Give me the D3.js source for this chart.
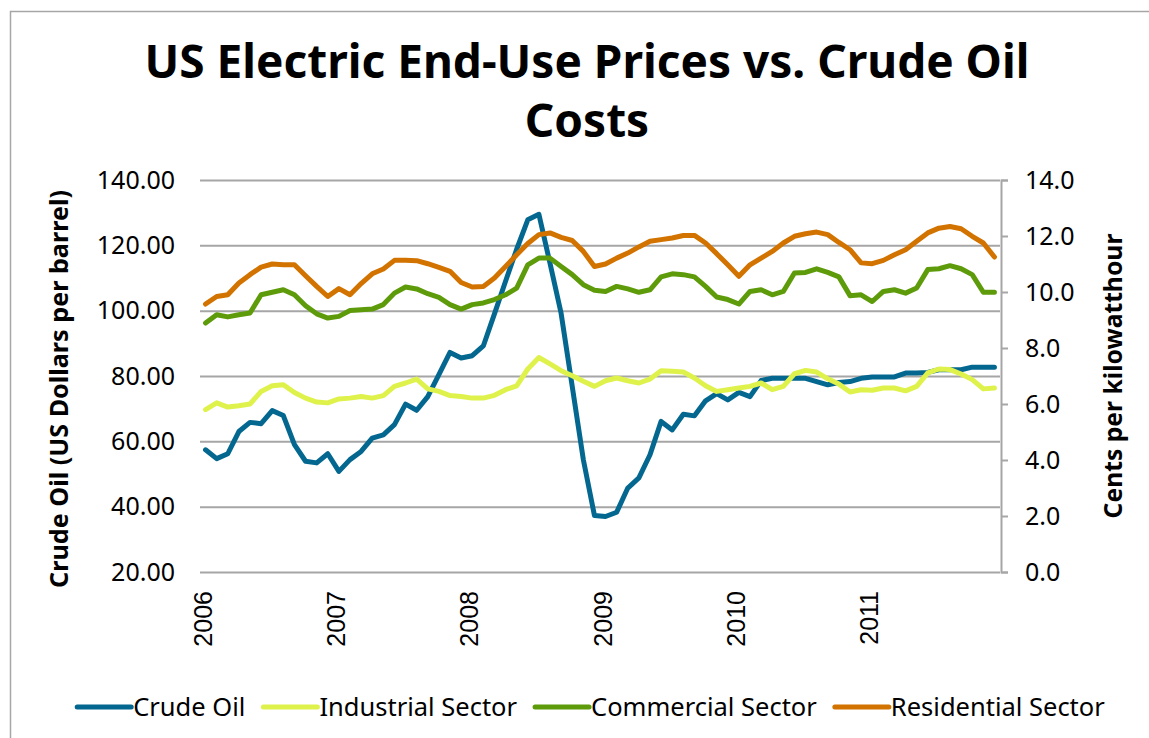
<!DOCTYPE html>
<html>
<head>
<meta charset="utf-8" />
<title>US Electric End-Use Prices vs. Crude Oil Costs</title>
<script src="https://cdn.jsdelivr.net/npm/d3@7"></script>
<style>
  body { margin: 0; background: #fff; }
  svg { display: block; font-family: "Noto Sans", sans-serif; }
</style>
</head>
<body>
<script>
// monthly values, Jan 2006 .. Dec 2011
var yearLabels = ['2006', '2007', '2008', '2009', '2010', '2011'];
var seriesNames = ['Crude Oil', 'Industrial Sector', 'Commercial Sector', 'Residential Sector'];
var seriesColors = ['#03678f', '#dff24c', '#5e9b0b', '#d27300'];

var crudeOil = [57.4, 54.7, 56.2, 63.0, 65.8, 65.4, 69.4, 67.9, 59.0, 53.9, 53.4, 56.2,
    50.8, 54.4, 56.9, 61.0, 62.0, 65.1, 71.4, 69.5, 73.7, 80.4, 87.2, 85.5,
    86.2, 89.2, 99.0, 109.0, 118.8, 127.8, 129.5, 114.5, 99.2, 76.8, 54.4, 37.3,
    37.0, 38.3, 45.7, 48.8, 55.9, 66.1, 63.5, 68.3, 67.8, 72.4, 74.6, 72.7,
    75.0, 73.7, 78.6, 79.3, 79.3, 79.3, 79.3, 78.3, 77.3, 78.0, 78.3, 79.3,
    79.7, 79.7, 79.7, 80.9, 80.9, 81.1, 81.9, 81.9, 81.9, 82.7, 82.7, 82.7];

var industrial = [5.80, 6.04, 5.89, 5.94, 6.00, 6.45, 6.65, 6.69, 6.41, 6.21, 6.07, 6.04,
    6.18, 6.21, 6.27, 6.21, 6.30, 6.63, 6.75, 6.89, 6.54, 6.45, 6.30, 6.27,
    6.21, 6.21, 6.31, 6.51, 6.65, 7.25, 7.66, 7.43, 7.19, 7.01, 6.81, 6.63,
    6.83, 6.93, 6.83, 6.75, 6.89, 7.19, 7.17, 7.14, 6.93, 6.65, 6.45, 6.51,
    6.57, 6.63, 6.75, 6.51, 6.63, 7.08, 7.20, 7.14, 6.90, 6.71, 6.43, 6.51,
    6.49, 6.57, 6.57, 6.47, 6.63, 7.11, 7.25, 7.23, 7.07, 6.87, 6.54, 6.57];

var commercial = [8.89, 9.19, 9.11, 9.19, 9.25, 9.90, 9.99, 10.08, 9.90, 9.51, 9.22, 9.07,
    9.13, 9.34, 9.37, 9.39, 9.55, 9.96, 10.18, 10.11, 9.94, 9.81, 9.55, 9.39,
    9.55, 9.61, 9.73, 9.90, 10.14, 10.97, 11.21, 11.21, 10.91, 10.62, 10.26, 10.06,
    10.02, 10.20, 10.11, 9.99, 10.08, 10.54, 10.65, 10.62, 10.54, 10.20, 9.82, 9.73,
    9.57, 10.02, 10.08, 9.90, 10.02, 10.68, 10.70, 10.83, 10.70, 10.54, 9.87, 9.90,
    9.66, 10.02, 10.08, 9.96, 10.14, 10.80, 10.83, 10.94, 10.83, 10.62, 9.99, 9.99];

var residential = [9.57, 9.84, 9.90, 10.32, 10.62, 10.89, 11.00, 10.97, 10.97, 10.58, 10.20, 9.84,
    10.12, 9.90, 10.30, 10.65, 10.82, 11.13, 11.13, 11.12, 11.01, 10.88, 10.74, 10.34,
    10.18, 10.20, 10.50, 10.91, 11.33, 11.73, 12.05, 12.11, 11.95, 11.84, 11.45, 10.91,
    11.00, 11.21, 11.39, 11.61, 11.81, 11.87, 11.93, 12.02, 12.02, 11.75, 11.37, 10.97,
    10.56, 10.97, 11.21, 11.45, 11.75, 11.99, 12.08, 12.14, 12.05, 11.77, 11.51, 11.04,
    11.01, 11.13, 11.33, 11.51, 11.81, 12.11, 12.28, 12.34, 12.26, 11.99, 11.75, 11.25];

var leftTicks = [20, 40, 60, 80, 100, 120, 140];
var rightTicks = [0, 2, 4, 6, 8, 10, 12, 14];

var width = 1149, height = 738;
var plot = { left: 200, right: 1000, top: 180, bottom: 572 };

var svg = d3.select('body').append('svg')
    .attr('width', width)
    .attr('height', height);

// outer chart border (runs off the page at right and bottom)
svg.append('rect')
    .attr('x', 10.5).attr('y', 11.5)
    .attr('width', 1200).attr('height', 800)
    .attr('fill', 'none')
    .attr('stroke', '#a6a6a6')
    .attr('stroke-width', 1.5);

var x = d3.scalePoint()
    .domain(d3.range(crudeOil.length))
    .range([plot.left, plot.right])
    .padding(0.5);

var yLeft = d3.scaleLinear().domain([20, 140]).range([plot.bottom, plot.top]);
var yRight = d3.scaleLinear().domain([0, 14]).range([plot.bottom, plot.top]);

// gridlines
svg.append('g')
    .attr('transform', 'translate(' + plot.left + ',0)')
    .call(d3.axisLeft(yLeft).tickValues(leftTicks).tickSize(-(plot.right - plot.left)).tickFormat(''))
    .call(g => g.select('.domain').remove())
    .call(g => g.selectAll('line').attr('stroke', '#a6a6a6').attr('stroke-width', 2));

// left axis labels
svg.append('g')
    .attr('transform', 'translate(' + (plot.left - 4) + ',0)')
    .call(d3.axisLeft(yLeft).tickValues(leftTicks).tickSize(0).tickPadding(21).tickFormat(d3.format('.2f')))
    .call(g => g.select('.domain').remove())
    .call(g => g.selectAll('text')
        .attr('fill', '#000')
        .style('font-family', '"Noto Sans", sans-serif')
        .style('font-size', '25px'));

// right axis
svg.append('g')
    .attr('transform', 'translate(' + (plot.right + 1) + ',0)')
    .call(d3.axisRight(yRight).tickValues(rightTicks).tickSize(7).tickPadding(17).tickFormat(d3.format('.1f')))
    .call(g => g.select('.domain').attr('stroke', '#a6a6a6').attr('stroke-width', 2))
    .call(g => g.selectAll('line').attr('stroke', '#a6a6a6').attr('stroke-width', 2))
    .call(g => g.selectAll('text')
        .attr('fill', '#000')
        .style('font-family', '"Noto Sans", sans-serif')
        .style('font-size', '25px'));

// year labels along the bottom
svg.append('g')
    .attr('transform', 'translate(0,' + plot.bottom + ')')
    .call(d3.axisBottom(x).tickValues(d3.range(0, 72, 12)).tickSize(0).tickFormat(i => yearLabels[i / 12]))
    .call(g => g.select('.domain').remove())
    .call(g => g.selectAll('text')
        .attr('fill', '#000')
        .style('font-family', '"Liberation Sans", Arial, sans-serif')
        .style('font-size', '25px')
        .attr('text-anchor', 'end')
        .attr('transform', 'rotate(-90)')
        .attr('x', -19)
        .attr('y', -3)
        .attr('dy', '0.35em'));

// lines
var allSeries = [
    { values: crudeOil, scale: yLeft },
    { values: industrial, scale: yRight },
    { values: commercial, scale: yRight },
    { values: residential, scale: yRight }
];

allSeries.forEach(function (s, k) {
    var line = d3.line()
        .x((d, i) => x(i))
        .y(d => s.scale(d));
    svg.append('path')
        .datum(s.values)
        .attr('d', line)
        .attr('fill', 'none')
        .attr('stroke', seriesColors[k])
        .attr('stroke-width', 5)
        .attr('stroke-linejoin', 'round')
        .attr('stroke-linecap', 'round');
});

// fit a text element to a width by changing its font size
function fitText(t, w) {
    var fs = parseFloat(t.style('font-size'));
    var len = t.node().getComputedTextLength();
    t.style('font-size', (fs * w / len).toFixed(2) + 'px');
}

// title
var title1 = svg.append('text')
    .attr('x', 587).attr('y', 78)
    .attr('text-anchor', 'middle')
    .style('font-weight', 'bold')
    .style('font-size', '44px')
    .text('US Electric End-Use Prices vs. Crude Oil');
fitText(title1, 885);
svg.append('text')
    .attr('x', 587).attr('y', 137)
    .attr('text-anchor', 'middle')
    .style('font-weight', 'bold')
    .style('font-size', title1.style('font-size'))
    .text('Costs');

// axis titles
var lt = svg.append('text')
    .attr('transform', 'translate(68,389) rotate(-90)')
    .attr('text-anchor', 'middle')
    .style('font-weight', 'bold')
    .style('font-size', '23px')
    .text('Crude Oil (US Dollars per barrel)');
fitText(lt, 398);

var rt = svg.append('text')
    .attr('transform', 'translate(1122,376) rotate(-90)')
    .attr('text-anchor', 'middle')
    .style('font-weight', 'bold')
    .style('font-size', '23px')
    .text('Cents per kilowatthour');
fitText(rt, 285);

// legend
var legend = svg.append('g');
var lx = 0;
seriesNames.forEach(function (name, k) {
    legend.append('line')
        .attr('x1', lx + 2).attr('x2', lx + 56)
        .attr('y1', 0).attr('y2', 0)
        .attr('stroke', seriesColors[k])
        .attr('stroke-width', 5)
        .attr('stroke-linecap', 'round');
    var t = legend.append('text')
        .attr('x', lx + 58).attr('y', 0)
        .attr('dy', '0.35em')
        .style('font-size', '25.5px')
        .text(name);
    lx += 58 + t.node().getComputedTextLength() + 16;
});
lx -= 16;
legend.attr('transform', 'translate(' + (590 - lx / 2) + ',707)');
</script>
</body>
</html>
